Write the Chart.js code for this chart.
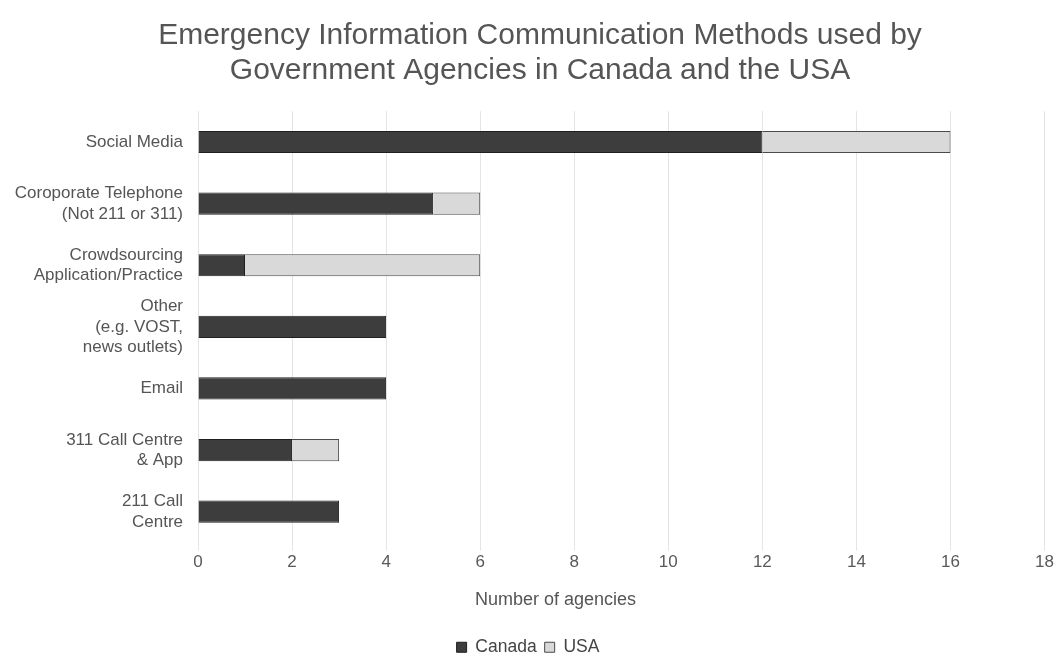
<!DOCTYPE html>
<html>
<head>
<meta charset="utf-8">
<script src="https://cdn.jsdelivr.net/npm/chart.js@4"></script>
<style>
html,body{margin:0;padding:0;background:#fff;overflow:hidden;}
#wrap{width:1056px;height:656px;position:relative;}
</style>
</head>
<body>
<div id="wrap"><canvas id="c"></canvas></div>
<script>
const categories = [
  "Social Media",
  ["Coroporate Telephone", "(Not 211 or 311)"],
  ["Crowdsourcing", "Application/Practice"],
  ["Other", "(e.g. VOST,", "news outlets)"],
  "Email",
  ["311 Call Centre", "& App"],
  ["211 Call", "Centre"]
];
const canada = [12, 5, 1, 4, 4, 2, 3];
const usa = [4, 1, 5, 0, 0, 1, 0];
const titleLines = ["Emergency Information Communication Methods used by", "Government Agencies in Canada and the USA"];
const xAxisTitle = "Number of agencies";

const FONT = 'Liberation Sans, Arial, sans-serif';
const TITLE_SIZE = 30, TITLE_LH = 1.17, TITLE_PAD_TOP = 14;

const textPlugin = {
  id: 'offsetTexts',
  afterDraw(chart) {
    const xs = chart.scales.x;
    const ctx = chart.ctx;
    ctx.save();
    ctx.fillStyle = '#555555';
    ctx.textAlign = 'center';
    ctx.textBaseline = 'middle';
    // axis title
    ctx.font = '18px ' + FONT;
    ctx.fillText(xAxisTitle, xs.getPixelForValue(7.6), xs.bottom - 20 - 10.8);
    // chart title
    const tb = chart.titleBlock;
    ctx.font = TITLE_SIZE + 'px ' + FONT;
    const lh = TITLE_SIZE * TITLE_LH;
    const cx = (tb.left + tb.right) / 2 + 12;
    titleLines.forEach((t, i) => {
      ctx.fillText(t, cx, tb.top + TITLE_PAD_TOP + lh * (i + 0.5));
    });
    ctx.restore();
  }
};

new Chart(document.getElementById('c'), {
  type: 'bar',
  data: {
    labels: categories,
    datasets: [
      { label: 'Canada', data: canada, backgroundColor: '#3d3d3d', borderColor: '#1f1f1f', borderWidth: 1, barPercentage: 0.72, categoryPercentage: 0.5 },
      { label: 'USA', data: usa, backgroundColor: '#d9d9d9', borderColor: '#4a4a4a', borderWidth: 1, barPercentage: 0.72, categoryPercentage: 0.5 }
    ]
  },
  plugins: [textPlugin],
  options: {
    indexAxis: 'y',
    responsive: true,
    maintainAspectRatio: false,
    animation: false,
    layout: { padding: { left: 0, right: 0, top: 4, bottom: -10 } },
    plugins: {
      title: {
        display: true,
        text: titleLines,
        color: 'rgba(0,0,0,0)',
        font: { family: FONT, size: TITLE_SIZE, weight: 'normal', lineHeight: TITLE_LH },
        padding: { top: TITLE_PAD_TOP, bottom: 23 }
      },
      legend: {
        position: 'bottom',
        labels: {
          color: '#444',
          boxWidth: 10, boxHeight: 10,
          padding: 8,
          font: { family: FONT, size: 17.5 }
        }
      },
      tooltip: { enabled: false }
    },
    scales: {
      x: {
        stacked: true,
        min: 0, max: 18,
        ticks: { stepSize: 2, color: '#595959', font: { family: FONT, size: 17 }, padding: 2 },
        grid: { color: '#e4e4e4', tickLength: 8, drawTicks: true },
        border: { display: false },
        title: { display: true, text: xAxisTitle, color: 'rgba(0,0,0,0)', font: { family: FONT, size: 18 }, padding: { top: 14, bottom: 20 } }
      },
      y: {
        stacked: true,
        ticks: { color: '#555', font: { family: FONT, size: 17, lineHeight: 1.2 }, padding: 7, autoSkip: false },
        grid: { display: false },
        border: { display: false },
        afterFit: function(s) { s.width = 198; }
      }
    }
  }
});
</script>
</body>
</html>
